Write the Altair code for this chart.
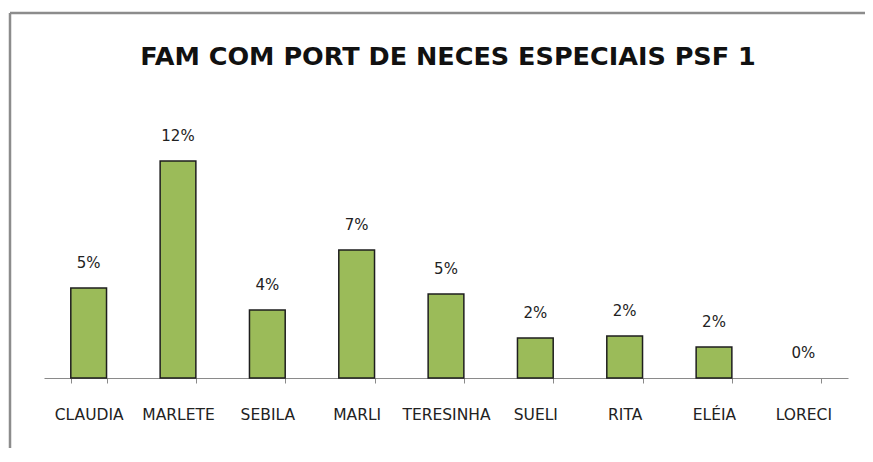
import altair as alt
import pandas as pd

names = ["CLAUDIA", "MARLETE", "SEBILA", "MARLI", "TERESINHA", "SUELI", "RITA", "ELÉIA", "LORECI"]
shares = [0.0498, 0.1200, 0.0376, 0.0708, 0.0465, 0.0221, 0.0232, 0.0171, 0.0]
title_text = "FAM COM PORT DE NECES ESPECIAIS PSF 1"

df = pd.DataFrame({"nome": names, "valor": shares})

W, H = 804, 235
PL, PT, PR, PB = 36, 135, 17, 70

x_enc = alt.X("nome:N", sort=names, title=None,
              scale=alt.Scale(paddingInner=0.6, paddingOuter=0.3),
              axis=alt.Axis(labelAngle=0, tickBand="extent", domainColor="#8a8a8a",
                            tickColor="#8a8a8a", tickSize=5, domainWidth=1.2,
                            labelPadding=24, labelFont="DejaVu Sans", labelFontSize=15.5,
                            labelColor="#222222", grid=False))
y_enc = alt.Y("valor:Q", scale=alt.Scale(domain=[0, 0.13], nice=False), axis=None)

bars = alt.Chart(df).mark_bar(color="#9BBB59", stroke="#1e1e1e").encode(
    x=x_enc, y=y_enc,
    strokeWidth=alt.condition(alt.datum.valor > 0, alt.value(1.5), alt.value(0)))

labels = alt.Chart(df).mark_text(dy=-25, baseline="middle", font="DejaVu Sans",
                                 fontSize=15, color="#222222").encode(
    x=alt.X("nome:N", sort=names), y="valor:Q", text=alt.Text("valor:Q", format=".0%"))

one = pd.DataFrame({"k": [0], "t": [title_text]})
frame_left = alt.Chart(one).mark_rule(color="#8c8c8c", strokeWidth=2.5).encode(
    x=alt.value(-34), y=alt.value(-130), y2=alt.value(H + PB))
frame_top = alt.Chart(one).mark_rule(color="#8c8c8c", strokeWidth=2.5).encode(
    x=alt.value(-34), x2=alt.value(W + PR), y=alt.value(-130))
title = alt.Chart(one).mark_text(font="DejaVu Sans", fontSize=25.5, fontWeight="bold",
                                 color="#111111", baseline="middle", align="center").encode(
    x=alt.value(W / 2 + 2), y=alt.value(-86), text="t:N")

chart = alt.layer(frame_left, frame_top, title, bars, labels).properties(
    width=W, height=H, background="white",
    padding={"left": PL, "top": PT, "right": PR, "bottom": PB},
    autosize=alt.AutoSizeParams(type="none"),
).configure_view(strokeWidth=0)

chart.save("out.html", embed_options={"renderer": "svg", "actions": False})
